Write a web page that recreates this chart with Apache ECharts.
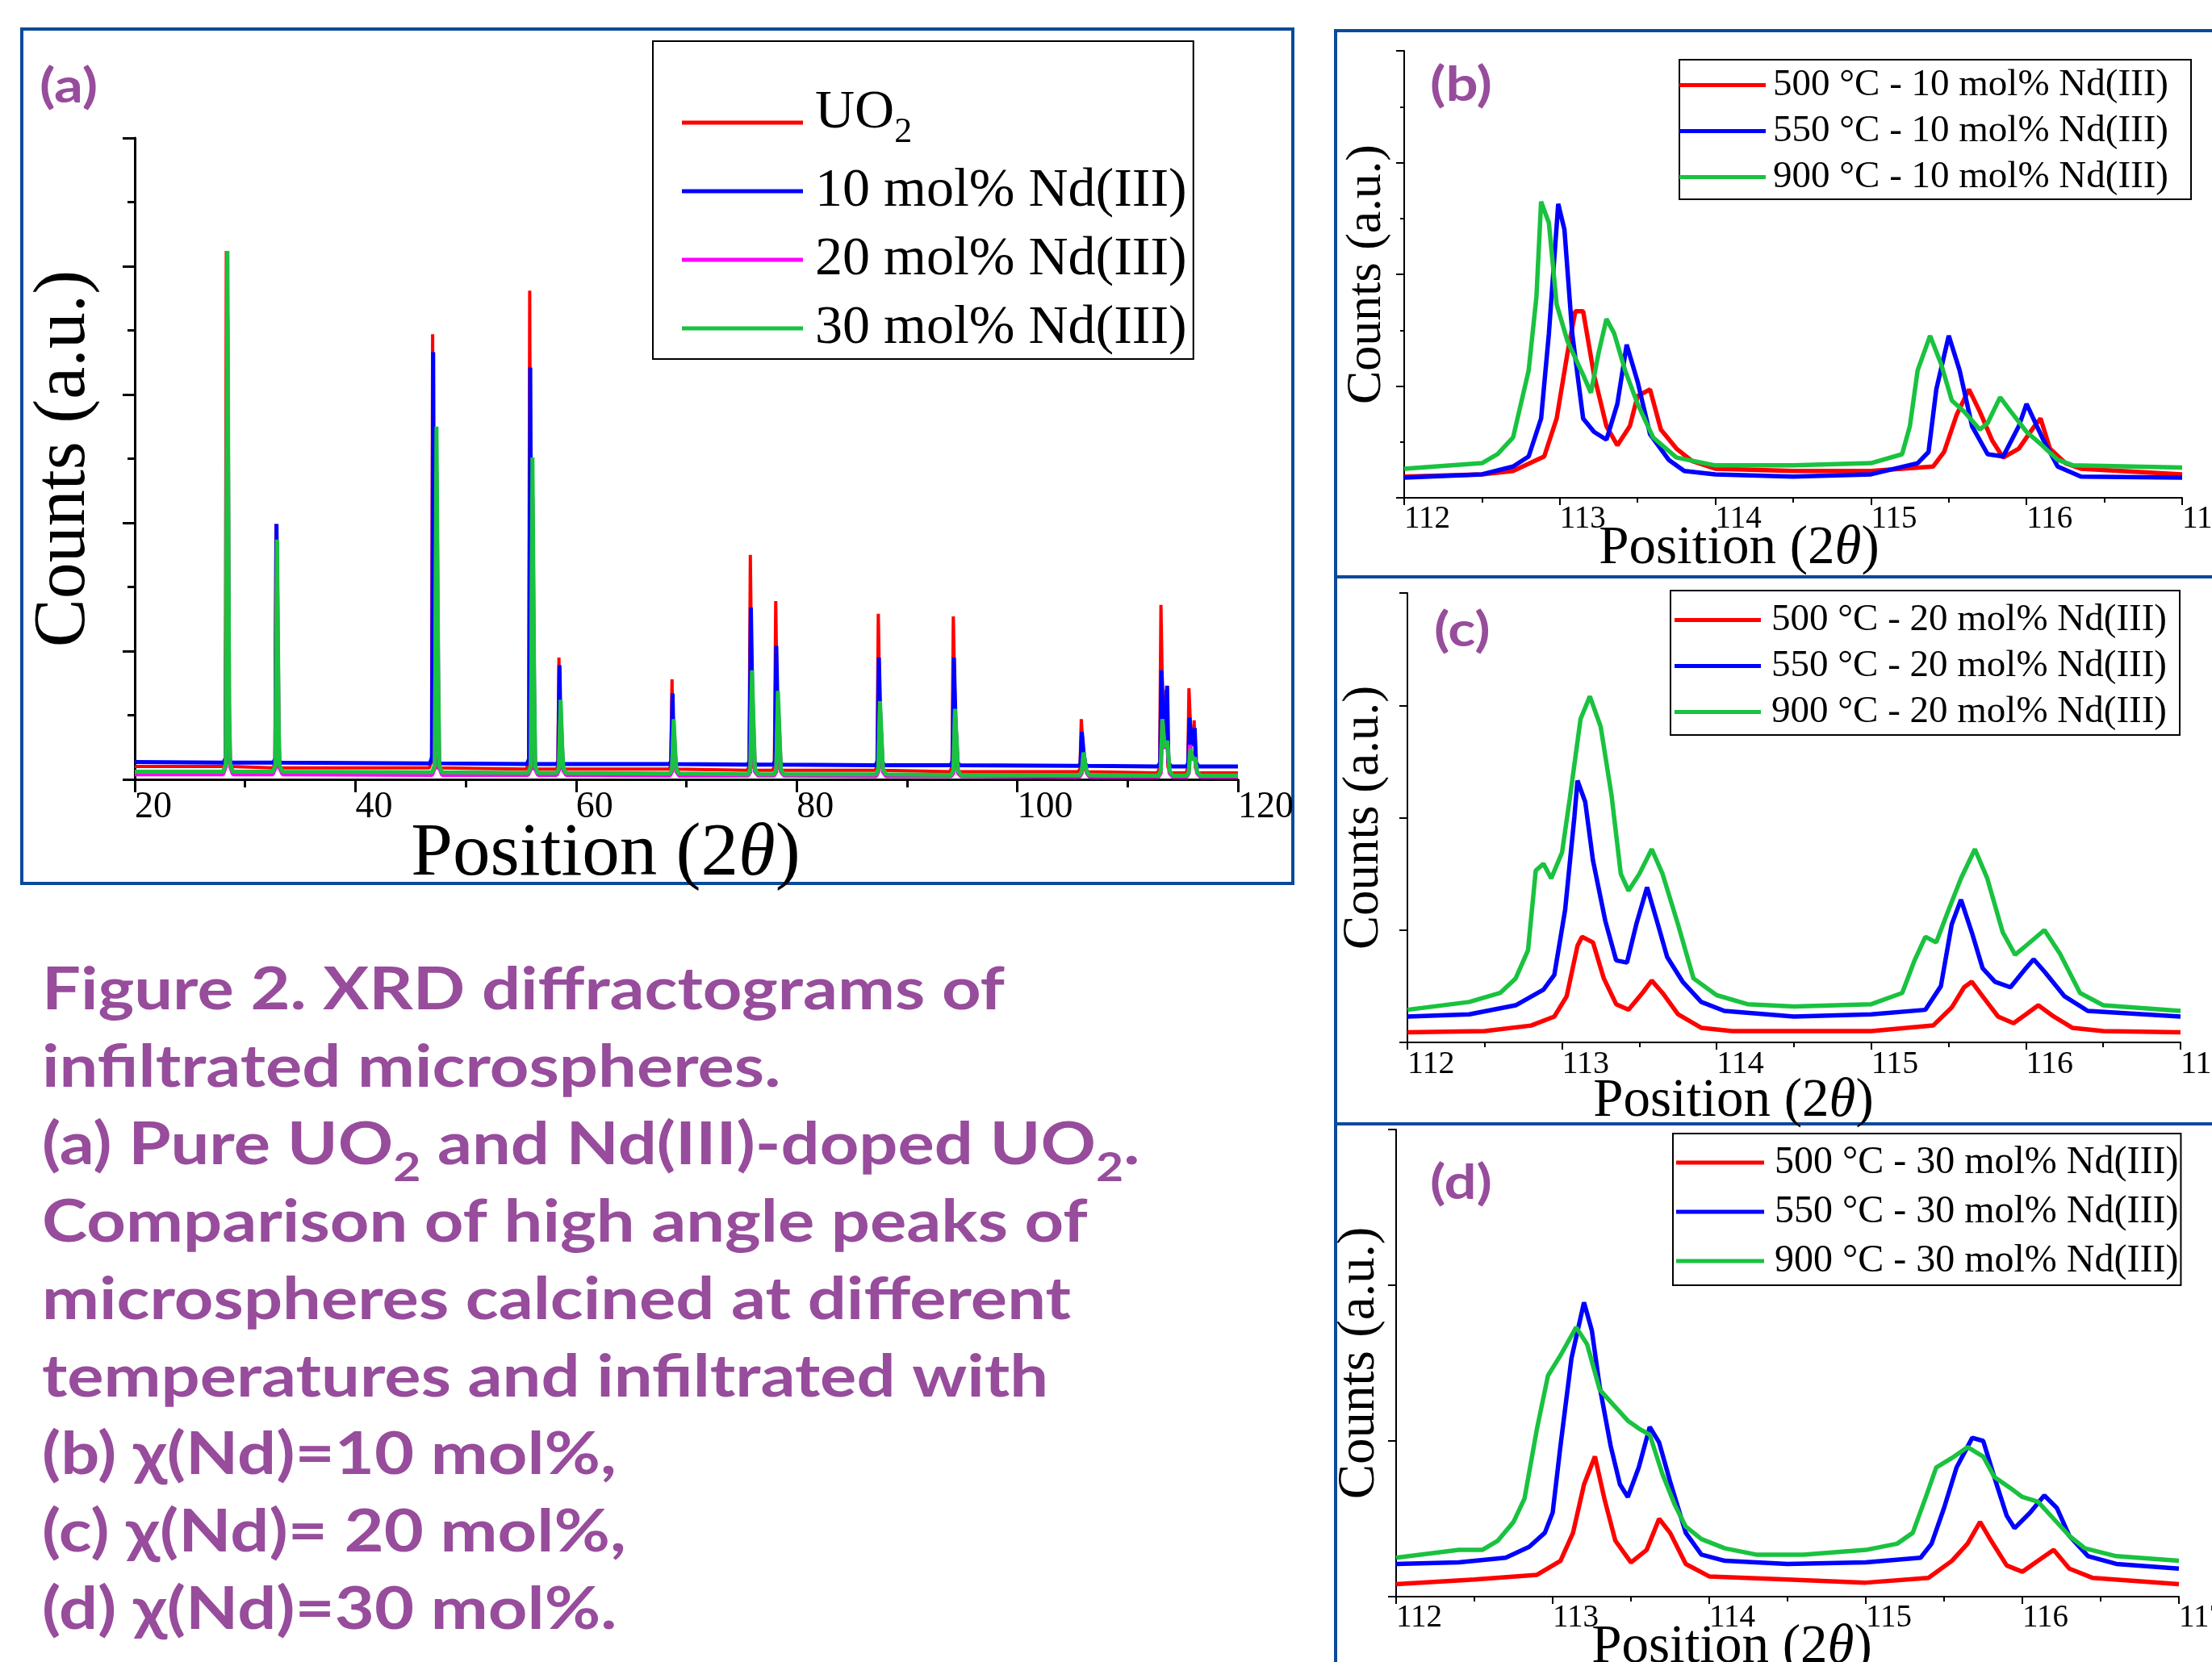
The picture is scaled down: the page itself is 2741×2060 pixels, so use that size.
<!DOCTYPE html>
<html>
<head>
<meta charset="utf-8">
<title>XRD diffractograms</title>
<script src="https://cdn.jsdelivr.net/npm/echarts@6/dist/echarts.min.js"></script>
<style>
html, body { margin:0; padding:0; background:#fff; }
#chart { width:2741px; height:2060px; }
</style>
</head>
<body>
<div id="chart"></div>
<script>
// ---- panel (a): full pattern, [2theta, counts]
var aUO2 = [[20,0.10],
  [28.0,0.10],[28.2,0.14],[28.3,4.12],[28.42,0.16],[28.7,0.10],
  [32.5,0.09],[32.7,0.12],[32.8,1.99],[32.92,0.13],[33.2,0.09],
  [46.7,0.09],[46.9,0.14],[47.0,3.47],[47.12,0.15],[47.4,0.09],
  [55.5,0.08],[55.7,0.13],[55.8,3.81],[55.93,0.14],[56.2,0.08],
  [58.2,0.08],[58.35,0.10],[58.45,0.95],[58.58,0.11],[58.8,0.08],
  [68.4,0.08],[68.58,0.10],[68.7,0.78],[68.82,0.10],[69.0,0.08],
  [75.5,0.07],[75.68,0.10],[75.8,1.75],[75.95,0.60],[76.05,0.10],[76.3,0.07],
  [77.8,0.07],[77.98,0.10],[78.1,1.39],[78.25,0.45],[78.35,0.10],[78.6,0.07],
  [87.1,0.07],[87.28,0.10],[87.4,1.29],[87.55,0.50],[87.68,0.10],[87.9,0.07],
  [93.9,0.06],[94.08,0.10],[94.2,1.27],[94.35,0.55],[94.5,0.10],[94.7,0.06],
  [105.5,0.06],[105.68,0.08],[105.8,0.47],[105.95,0.25],[106.1,0.08],[106.3,0.06],
  [112.7,0.05],[112.9,0.09],[113.02,1.36],[113.2,0.45],[113.35,0.30],[113.5,0.70],[113.65,0.10],[113.9,0.05],
  [115.3,0.05],[115.45,0.09],[115.56,0.71],[115.75,0.30],[115.95,0.30],[116.03,0.46],[116.15,0.09],[116.4,0.05],
  [120,0.05]];
var aNd10 = [[20,0.135],
  [28.05,0.13],[28.25,0.17],[28.35,2.03],[28.47,0.18],[28.75,0.13],
  [32.55,0.13],[32.75,0.16],[32.85,1.99],[32.97,0.16],[33.25,0.13],
  [46.75,0.125],[46.95,0.17],[47.05,3.33],[47.17,0.18],[47.45,0.125],
  [55.55,0.12],[55.75,0.16],[55.85,3.21],[55.98,0.17],[56.25,0.12],
  [58.25,0.12],[58.4,0.14],[58.5,0.89],[58.63,0.15],[58.85,0.12],
  [68.45,0.12],[68.63,0.14],[68.75,0.67],[68.87,0.14],[69.05,0.12],
  [75.55,0.115],[75.73,0.14],[75.85,1.34],[76.0,0.50],[76.1,0.14],[76.35,0.115],
  [77.85,0.115],[78.03,0.14],[78.15,1.04],[78.3,0.40],[78.4,0.14],[78.65,0.115],
  [87.15,0.11],[87.33,0.14],[87.45,0.95],[87.6,0.40],[87.73,0.14],[87.95,0.11],
  [93.95,0.11],[94.13,0.14],[94.25,0.95],[94.4,0.45],[94.55,0.14],[94.75,0.11],
  [105.55,0.105],[105.73,0.12],[105.85,0.37],[106.0,0.22],[106.15,0.12],[106.35,0.105],
  [112.75,0.10],[112.95,0.13],[113.07,0.85],[113.25,0.40],[113.4,0.30],[113.58,0.73],[113.7,0.13],[113.95,0.10],
  [115.35,0.10],[115.5,0.13],[115.61,0.48],[115.8,0.28],[116.0,0.27],[116.08,0.40],[116.2,0.13],[116.45,0.10],
  [120,0.10]];
var aNd20 = [[20,0.04],
  [28.0,0.04],[28.25,0.10],[28.4,3.60],[28.55,0.50],[28.65,0.10],[28.9,0.04],
  [32.5,0.04],[32.75,0.09],[32.9,1.60],[33.05,0.35],[33.12,0.09],[33.4,0.04],
  [46.95,0.035],[47.2,0.09],[47.35,2.40],[47.5,0.80],[47.6,0.09],[47.85,0.035],
  [55.65,0.035],[55.9,0.08],[56.05,2.20],[56.2,0.70],[56.3,0.08],[56.55,0.035],
  [58.25,0.035],[58.45,0.07],[58.6,0.55],[58.75,0.22],[58.85,0.07],[59.1,0.035],
  [68.5,0.03],[68.7,0.06],[68.85,0.42],[69.0,0.18],[69.1,0.06],[69.35,0.03],
  [75.6,0.03],[75.8,0.06],[75.95,0.75],[76.12,0.30],[76.22,0.06],[76.5,0.03],
  [77.95,0.03],[78.15,0.06],[78.3,0.60],[78.47,0.26],[78.57,0.06],[78.85,0.03],
  [87.2,0.025],[87.4,0.06],[87.55,0.55],[87.72,0.25],[87.82,0.06],[88.1,0.025],
  [94.0,0.025],[94.2,0.05],[94.35,0.50],[94.52,0.25],[94.62,0.05],[94.9,0.025],
  [105.65,0.02],[105.85,0.05],[106.0,0.20],[106.17,0.11],[106.3,0.05],[106.55,0.02],
  [112.8,0.02],[113.0,0.05],[113.15,0.47],[113.35,0.24],[113.6,0.28],[113.8,0.05],[114.1,0.02],
  [115.35,0.02],[115.55,0.05],[115.65,0.27],[115.9,0.15],[116.1,0.17],[116.3,0.05],[116.6,0.02],
  [120,0.02]];
var aNd30 = [[20,0.06],
  [28.0,0.06],[28.25,0.12],[28.4,4.12],[28.55,0.60],[28.65,0.12],[28.9,0.06],
  [32.5,0.06],[32.75,0.11],[32.9,1.87],[33.05,0.40],[33.12,0.11],[33.4,0.06],
  [46.95,0.055],[47.2,0.11],[47.35,2.75],[47.5,0.90],[47.6,0.11],[47.85,0.055],
  [55.65,0.05],[55.9,0.10],[56.05,2.51],[56.2,0.80],[56.3,0.10],[56.55,0.05],
  [58.25,0.05],[58.45,0.09],[58.6,0.62],[58.75,0.25],[58.85,0.09],[59.1,0.05],
  [68.5,0.045],[68.7,0.08],[68.85,0.47],[69.0,0.20],[69.1,0.08],[69.35,0.045],
  [75.6,0.04],[75.8,0.08],[75.95,0.85],[76.12,0.35],[76.22,0.08],[76.5,0.04],
  [77.95,0.04],[78.15,0.08],[78.3,0.69],[78.47,0.30],[78.57,0.08],[78.85,0.04],
  [87.2,0.04],[87.4,0.08],[87.55,0.61],[87.72,0.28],[87.82,0.08],[88.1,0.04],
  [94.0,0.035],[94.2,0.07],[94.35,0.55],[94.52,0.28],[94.62,0.07],[94.9,0.035],
  [105.65,0.035],[105.85,0.06],[106.0,0.21],[106.17,0.12],[106.3,0.06],[106.55,0.035],
  [112.8,0.03],[113.0,0.07],[113.15,0.47],[113.35,0.25],[113.6,0.30],[113.8,0.07],[114.1,0.03],
  [115.35,0.03],[115.55,0.06],[115.7,0.24],[115.9,0.15],[116.1,0.17],[116.3,0.06],[116.6,0.03],
  [120,0.03]];

// ---- panel (b): 10 mol% Nd
var b500 = [[112.0,0.19],[112.5,0.21],[112.7,0.24],[112.9,0.37],[112.98,0.71],[113.05,1.30],[113.1,1.67],[113.15,1.67],[113.22,1.10],[113.3,0.64],[113.37,0.47],[113.45,0.64],[113.5,0.91],[113.58,0.97],[113.65,0.61],[113.75,0.44],[113.85,0.33],[114.0,0.26],[114.5,0.24],[115.0,0.24],[115.4,0.28],[115.47,0.41],[115.55,0.74],[115.63,0.97],[115.7,0.77],[115.78,0.51],[115.85,0.36],[115.95,0.44],[116.05,0.64],[116.09,0.71],[116.15,0.44],[116.25,0.31],[116.35,0.26],[117.0,0.21]];
var b550 = [[112.0,0.18],[112.5,0.21],[112.7,0.28],[112.8,0.37],[112.88,0.71],[112.93,1.47],[112.99,2.63],[113.03,2.40],[113.08,1.47],[113.15,0.71],[113.22,0.59],[113.3,0.52],[113.37,0.84],[113.43,1.37],[113.5,1.04],[113.58,0.57],[113.7,0.34],[113.8,0.24],[114.0,0.21],[114.5,0.19],[115.0,0.21],[115.3,0.31],[115.37,0.41],[115.42,0.97],[115.5,1.45],[115.57,1.14],[115.65,0.64],[115.75,0.39],[115.85,0.37],[115.95,0.64],[116.0,0.84],[116.1,0.54],[116.2,0.28],[116.35,0.19],[117.0,0.18]];
var b900 = [[112.0,0.26],[112.5,0.31],[112.6,0.39],[112.7,0.54],[112.8,1.14],[112.85,1.80],[112.88,2.65],[112.93,2.46],[112.98,1.73],[113.05,1.40],[113.15,1.10],[113.2,0.94],[113.25,1.30],[113.3,1.60],[113.35,1.47],[113.42,1.14],[113.5,0.84],[113.6,0.54],[113.75,0.36],[114.0,0.29],[114.5,0.29],[115.0,0.31],[115.2,0.39],[115.25,0.64],[115.3,1.14],[115.38,1.45],[115.45,1.20],[115.52,0.87],[115.6,0.77],[115.7,0.61],[115.75,0.67],[115.83,0.90],[115.9,0.77],[116.0,0.59],[116.1,0.47],[116.2,0.34],[116.3,0.29],[117.0,0.27]];

// ---- panel (c): 20 mol% Nd
var c500 = [[112.0,0.09],[112.5,0.10],[112.8,0.15],[112.95,0.23],[113.03,0.41],[113.1,0.86],[113.13,0.94],[113.2,0.89],[113.27,0.57],[113.35,0.34],[113.43,0.29],[113.52,0.44],[113.58,0.55],[113.65,0.44],[113.75,0.25],[113.9,0.13],[114.1,0.10],[115.0,0.10],[115.4,0.15],[115.52,0.31],[115.6,0.49],[115.65,0.54],[115.72,0.41],[115.82,0.23],[115.92,0.17],[116.0,0.25],[116.08,0.33],[116.18,0.23],[116.3,0.13],[116.5,0.10],[117.0,0.09]];
var c550 = [[112.0,0.23],[112.4,0.25],[112.7,0.33],[112.88,0.47],[112.95,0.60],[113.02,1.18],[113.08,2.01],[113.1,2.33],[113.15,2.14],[113.2,1.62],[113.28,1.08],[113.35,0.73],[113.42,0.71],[113.48,1.05],[113.55,1.38],[113.62,1.05],[113.68,0.76],[113.78,0.54],[113.9,0.36],[114.05,0.28],[114.5,0.23],[115.0,0.25],[115.35,0.29],[115.45,0.50],[115.52,1.05],[115.58,1.27],[115.65,0.98],[115.72,0.66],[115.8,0.54],[115.9,0.49],[116.0,0.66],[116.05,0.74],[116.12,0.63],[116.25,0.41],[116.4,0.28],[117.0,0.23]];
var c900 = [[112.0,0.29],[112.4,0.36],[112.6,0.44],[112.7,0.57],[112.78,0.82],[112.83,1.53],[112.88,1.59],[112.93,1.46],[113.0,1.69],[113.05,2.17],[113.12,2.88],[113.18,3.08],[113.25,2.81],[113.32,2.20],[113.38,1.50],[113.43,1.35],[113.5,1.50],[113.58,1.72],[113.65,1.50],[113.75,1.05],[113.85,0.57],[114.0,0.42],[114.2,0.34],[114.5,0.32],[115.0,0.34],[115.2,0.44],[115.28,0.73],[115.35,0.94],[115.42,0.89],[115.5,1.18],[115.58,1.46],[115.67,1.72],[115.75,1.46],[115.85,0.98],[115.93,0.78],[116.0,0.86],[116.12,1.00],[116.22,0.79],[116.35,0.44],[116.5,0.33],[117.0,0.28]];

// ---- panel (d): 30 mol% Nd
var d500 = [[112.0,0.08],[112.5,0.11],[112.9,0.14],[113.05,0.23],[113.13,0.41],[113.2,0.72],[113.27,0.90],[113.33,0.63],[113.4,0.36],[113.5,0.22],[113.6,0.30],[113.68,0.50],[113.75,0.41],[113.85,0.21],[114.0,0.13],[114.5,0.11],[115.0,0.09],[115.4,0.12],[115.55,0.23],[115.65,0.34],[115.73,0.48],[115.8,0.36],[115.9,0.20],[116.0,0.16],[116.1,0.23],[116.2,0.30],[116.3,0.18],[116.45,0.12],[117.0,0.08]];
var d550 = [[112.0,0.21],[112.4,0.22],[112.7,0.25],[112.85,0.32],[112.95,0.41],[113.0,0.54],[113.05,0.97],[113.12,1.53],[113.2,1.89],[113.25,1.71],[113.3,1.35],[113.37,0.97],[113.43,0.72],[113.48,0.64],[113.55,0.83],[113.62,1.09],[113.68,0.99],[113.75,0.74],[113.85,0.41],[113.95,0.27],[114.1,0.23],[114.5,0.21],[115.0,0.22],[115.35,0.25],[115.42,0.34],[115.5,0.57],[115.58,0.83],[115.68,1.02],[115.75,1.00],[115.82,0.77],[115.9,0.52],[115.95,0.44],[116.05,0.54],[116.14,0.65],[116.22,0.57],[116.3,0.39],[116.42,0.26],[116.6,0.21],[117.0,0.18]];
var d900 = [[112.0,0.25],[112.4,0.30],[112.55,0.30],[112.65,0.36],[112.75,0.48],[112.82,0.63],[112.9,1.08],[112.97,1.42],[113.05,1.55],[113.1,1.64],[113.15,1.73],[113.22,1.62],[113.3,1.33],[113.38,1.24],[113.48,1.13],[113.55,1.08],[113.62,1.04],[113.7,0.79],[113.78,0.59],[113.85,0.45],[113.95,0.37],[114.1,0.31],[114.3,0.27],[114.6,0.27],[115.0,0.30],[115.2,0.34],[115.3,0.41],[115.38,0.63],[115.45,0.83],[115.55,0.89],[115.65,0.96],[115.75,0.90],[115.82,0.77],[115.92,0.70],[116.0,0.64],[116.1,0.61],[116.2,0.50],[116.3,0.39],[116.4,0.31],[116.6,0.26],[117.0,0.23]];

var legendA = ['UO2', '10 mol% Nd(III)', '20 mol% Nd(III)', '30 mol% Nd(III)'];
var temps = ['500 °C', '550 °C', '900 °C'];
var captionLines = [
  'Figure 2. XRD diffractograms of',
  'infiltrated microspheres.',
  '{m|(a) Pure UO}{s|2}{m| and Nd(III)-doped UO}{s|2}{m|.}',
  'Comparison of high angle peaks of',
  'microspheres calcined at different',
  'temperatures and infiltrated with',
  '(b) χ(Nd)=10 mol%,',
  '(c) χ(Nd)= 20 mol%,',
  '(d) χ(Nd)=30 mol%.'
];

var RED = '#ff0000', BLUE = '#0000ff', MAG = '#ff00ff', GREEN = '#19c23f';
var PURPLE = '#974c9c', FRAME = '#0b4a9a';
var SERIF = '"Liberation Serif", "Times New Roman", serif';
var SANS = 'Lato, "Noto Sans", sans-serif';

var chart = echarts.init(document.getElementById('chart'));

function xAx(grid, min, max, step, labelSize, nameSize, gap, shift, lw) {
  return {
    type: 'value', gridIndex: grid, min: min, max: max, interval: step,
    axisLine: { onZero: false, lineStyle: { color: '#000', width: lw } },
    axisTick: { length: lw > 2 ? 16 : 9, lineStyle: { color: '#000', width: lw } },
    minorTick: { show: true, splitNumber: 2, length: lw > 2 ? 10 : 6, lineStyle: { color: '#000', width: lw } },
    splitLine: { show: false },
    axisLabel: { fontFamily: SERIF, fontSize: labelSize, color: '#000', align: 'left', margin: lw > 2 ? 12 : 7 },
    name: 'Position (2{it|θ})', nameLocation: 'middle', nameGap: gap, nameMoveOverlap: false,
    nameTextStyle: {
      fontFamily: SERIF, fontSize: nameSize, color: '#000', padding: [0, shift, 0, 0],
      rich: { it: { fontFamily: SERIF, fontSize: nameSize, color: '#000', fontStyle: 'italic' } }
    }
  };
}
function yAx(grid, max, minor, nameSize, gap, lw) {
  return {
    type: 'value', gridIndex: grid, min: 0, max: max, interval: 1,
    axisLine: { show: true, lineStyle: { color: '#000', width: lw } },
    axisTick: { show: true, length: lw > 2 ? 15 : 10, lineStyle: { color: '#000', width: lw } },
    minorTick: { show: minor, splitNumber: 2, length: lw > 2 ? 9 : 5, lineStyle: { color: '#000', width: lw } },
    splitLine: { show: false },
    axisLabel: { show: false },
    name: 'Counts (a.u.)', nameLocation: 'middle', nameGap: gap, nameMoveOverlap: false,
    nameTextStyle: { fontFamily: SERIF, fontSize: nameSize, color: '#000' }
  };
}
function line(name, grid, data, color, width) {
  return {
    name: name, type: 'line', xAxisIndex: grid, yAxisIndex: grid, data: data,
    symbol: 'none', showSymbol: false, silent: true,
    lineStyle: { color: color, width: width }, itemStyle: { color: color }
  };
}
function legend(names, left, top, pad, size, iw, gap, textGap) {
  return {
    data: names, orient: 'vertical', left: left, top: top, padding: pad,
    itemGap: gap, itemWidth: iw, itemHeight: 5, icon: 'rect', selectedMode: false,
    borderColor: '#000', borderWidth: 2, backgroundColor: '#fff',
    formatter: function (n) { return n === 'UO2' ? '{m|UO}{s|2}' : n; },
    textStyle: {
      fontFamily: SERIF, fontSize: size, color: '#000', padding: [0, 0, 0, textGap],
      rich: {
        m: { fontFamily: SERIF, fontSize: size, lineHeight: size, color: '#000', verticalAlign: 'bottom', padding: [12, 0, 12, 0] },
        s: { fontFamily: SERIF, fontSize: 44, lineHeight: 44, color: '#000', verticalAlign: 'bottom' }
      }
    }
  };
}
function names(mol) { return temps.map(function (t) { return t + ' - ' + mol + ' mol% Nd(III)'; }); }
var nb = names(10), nc = names(20), nd = names(30);

// caption font condensed to match the original width
var ctx = document.createElement('canvas').getContext('2d');
ctx.font = 'bold 72px ' + SANS;
var capScale = 1193 / ctx.measureText(captionLines[0]).width;

var capRich = {
  m: { fontFamily: SANS, fontWeight: 'bold', fontSize: 72, lineHeight: 72, fill: PURPLE, verticalAlign: 'bottom', padding: [17, 0, 17, 0] },
  s: { fontFamily: SANS, fontWeight: 'bold', fontSize: 50, lineHeight: 50, fill: PURPLE, verticalAlign: 'bottom' }
};
var captionTexts = captionLines.map(function (t, i) {
  return {
    type: 'text', x: 0, y: 1250 + 96 * i - 22 + (i === 2 ? 17 : 0),
    style: { text: t, fill: PURPLE, fontFamily: SANS, fontWeight: 'bold', fontSize: 72, textVerticalAlign: 'middle', rich: capRich }
  };
});
function tag(t, x, y) {
  return { type: 'text', x: x, y: y, scaleX: capScale, z: 10,
    style: { text: t, fill: PURPLE, fontFamily: SANS, fontWeight: 'bold', fontSize: 60, textVerticalAlign: 'middle' } };
}
function frame(x, y, w, h) {
  return { type: 'rect', shape: { x: x, y: y, width: w, height: h }, z: 0,
    style: { fill: null, stroke: FRAME, lineWidth: 4 } };
}
function grid(l, t, w, h) {
  return { left: l, top: t, width: w, height: h, containLabel: false, outerBoundsMode: 'none' };
}

var option = {
  animation: false,
  backgroundColor: '#fff',
  grid: [
    grid(167, 171, 1367, 795),
    grid(1740, 63, 964, 554),
    grid(1744, 735, 958, 557),
    grid(1730, 1400, 970, 579)
  ],
  xAxis: [
    xAx(0, 20, 120, 20, 46, 93, 47, 200, 3),
    xAx(1, 112, 117, 1, 39, 67, 30, 134, 2),
    xAx(2, 112, 117, 1, 40, 67, 40, 150, 2),
    xAx(3, 112, 117, 1, 39, 67, 30, 138, 2)
  ],
  yAxis: [
    yAx(0, 5, true, 90, 42, 3),
    yAx(1, 4, true, 62, 15, 2),
    yAx(2, 4, false, 63, 22, 2),
    yAx(3, 3, false, 65, 13, 2)
  ],
  legend: [
    legend(legendA, 809, 51, [43, 8, 4, 36], 68, 150, 17, 10),
    legend(nb, 2081, 74, [8, 28, 4, 0], 47, 107, 10, 4),
    legend(nc, 2070, 732, [13, 16, 5, 5], 47, 107, 10, 8),
    legend(nd, 2073, 1405, [12, 3, 6, 4], 48, 109, 13, 8)
  ],
  graphic: [
    frame(27, 36, 1575, 1059),
    frame(1655, 38, 1100, 677),
    frame(1655, 715, 1100, 678),
    frame(1655, 1393, 1100, 700),
    tag('(a)', 49, 108),
    tag('(b)', 1772, 106),
    tag('(c)', 1777, 782),
    tag('(d)', 1772, 1467),
    { type: 'group', x: 52, y: 0, scaleX: capScale, children: captionTexts }
  ],
  series: [
    line(legendA[0], 0, aUO2, RED, 4),
    line(legendA[1], 0, aNd10, BLUE, 5),
    line(legendA[2], 0, aNd20, MAG, 5),
    line(legendA[3], 0, aNd30, GREEN, 5),
    line(nb[0], 1, b500, RED, 5.5),
    line(nb[1], 1, b550, BLUE, 5.5),
    line(nb[2], 1, b900, GREEN, 5.5),
    line(nc[0], 2, c500, RED, 5.5),
    line(nc[1], 2, c550, BLUE, 5.5),
    line(nc[2], 2, c900, GREEN, 5.5),
    line(nd[0], 3, d500, RED, 5.5),
    line(nd[1], 3, d550, BLUE, 5.5),
    line(nd[2], 3, d900, GREEN, 5.5)
  ]
};
chart.setOption(option);
window.onresize = chart.resize;
</script>
</body>
</html>
